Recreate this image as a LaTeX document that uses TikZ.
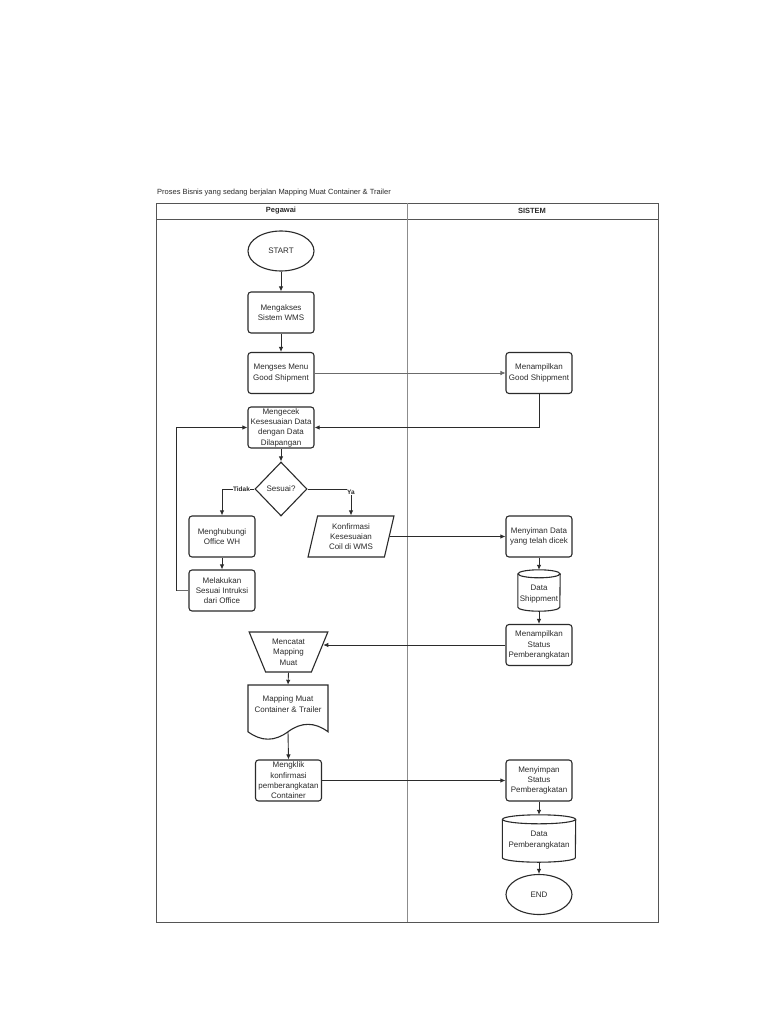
\documentclass[tikz,border=0pt]{standalone}
\usepackage{fontspec}
\setmainfont{Liberation Sans}
\usetikzlibrary{shapes.geometric,arrows.meta,calc}
\definecolor{ink}{HTML}{2B2B2B}
\definecolor{frame}{HTML}{555555}
\tikzset{
  base/.style={draw=ink,line width=1.1pt,fill=white,text=ink,font=\fontsize{8}{10.3}\selectfont,align=center,inner sep=1pt},
  procbox/.style={base,rectangle,rounded corners=3pt,minimum width=66pt,minimum height=41pt},
  term/.style={base,ellipse,minimum width=66pt,minimum height=40pt},
  decis/.style={base,diamond,minimum width=52pt,minimum height=54pt,inner sep=0pt},
  ioshape/.style={base,trapezium,trapezium stretches=true,trapezium left angle=77,trapezium right angle=103,minimum width=86pt,minimum height=41pt},
  manual/.style={base,trapezium,trapezium stretches=true,trapezium left angle=66,trapezium right angle=66,shape border rotate=180,minimum width=79pt,minimum height=40pt},
  plain/.style={draw=none,fill=none,text=ink,font=\fontsize{8}{10.3}\selectfont,align=center,inner sep=0pt},
  shapeline/.style={draw=ink,line width=1.1pt},
  flow/.style={draw=ink,line width=0.9pt,-{Latex[length=5pt,width=4.5pt]}},
  thinflow/.style={draw=ink!70,line width=0.6pt,-{Latex[length=5pt,width=4.5pt]}},
  thinline/.style={draw=ink!70,line width=0.6pt},
  lbl/.style={fill=white,text=ink,font=\fontsize{6.5}{7}\selectfont\bfseries,inner sep=0.5pt},
  hdr/.style={text=ink,font=\fontsize{7.5}{9}\selectfont\bfseries},
  ttl/.style={text=ink,font=\fontsize{7.5}{9}\selectfont,inner sep=0pt,anchor=west}
}
\newcommand\drawcyl[3]{%
  \draw[shapeline] ($(#1.north west)+(0,-#3pt)$) -- ($(#1.south west)+(0,#3pt)$)
     arc[start angle=180,end angle=360,x radius=#2pt,y radius=#3pt]
     -- ($(#1.north east)+(0,-#3pt)$);
  \draw[shapeline] ($(#1.north)+(0,-#3pt)$) ellipse[x radius=#2pt,y radius=#3pt];
}
\begin{document}
\begin{tikzpicture}[x=1pt,y=1pt]
\useasboundingbox[fill=white] (0,0) rectangle (768,-1024);

% title and frame
\node[ttl] (title) at (157,-193) {Proses Bisnis yang sedang berjalan Mapping Muat Container \& Trailer};
\draw[draw=frame,line width=0.9pt] (156,-203) rectangle (658,-922);
\coordinate (hl) at (156,-219);
\coordinate (hr) at (658,-219);
\coordinate (vt) at (407,-203);
\coordinate (vb) at (407,-922);
\draw[draw=frame,line width=0.7pt] (hl) -- (hr);
\draw[draw=black!45,line width=0.7pt] (vt) -- (vb);
\node[hdr] (peg) at (281,-211) {Pegawai};
\node[hdr] (sis) at (532,-211) {SISTEM};

% Pegawai lane
\node[term] (start) at (281,-251) {START};
\node[procbox] (akses) at (281,-312.5) {Mengakses\\Sistem WMS};
\node[procbox] (menu) at (281,-373) {Mengses Menu\\Good Shipment};
\node[procbox] (cek) at (281,-427.5) {Mengecek\\Kesesuaian Data\\dengan Data\\Dilapangan};
\node[decis] (dec) at (281,-489) {Sesuai?};
\node[procbox] (hub) at (222,-536.5) {Menghubungi\\Office WH};
\node[procbox] (lak) at (222,-590.5) {Melakukan\\Sesuai Intruksi\\dari Office};
\node[ioshape] (konf) at (351,-536.5) {Konfirmasi\\Kesesuaian\\Coil di WMS};
\node[manual] (catat) at (288.5,-652) {Mencatat\\Mapping\\Muat};

% document shape
\coordinate (docb) at (288,-731.75);
\draw[shapeline] (248,-685) -- (328,-685) -- (328,-731.75)
   .. controls (314.67,-721.85) and (301.33,-721.85) .. (docb)
   .. controls (274.67,-741.65) and (261.33,-741.65) .. (248,-731.75) -- cycle;
\node[plain,minimum width=80pt,minimum height=38pt] (doc) at (288,-704) {Mapping Muat\\Container \& Trailer};

\node[procbox] (klik) at (288.5,-780.5) {Mengklik\\konfirmasi\\pemberangkatan\\Container};

% Sistem lane
\node[procbox] (tampil) at (539,-373) {Menampilkan\\Good Shippment};
\node[procbox] (simpan) at (539,-536.5) {Menyiman Data\\yang telah dicek};
\node[plain,minimum width=42pt,minimum height=41pt] (dship) at (539,-590.5) {};
\drawcyl{dship}{21}{4}
\node[plain] (dshipt) at (539,-594) {Data\\Shippment};
\node[procbox] (status) at (539,-645) {Menampilkan\\Status\\Pemberangkatan};
\node[procbox] (menyimpan) at (539,-780.5) {Menyimpan\\Status\\Pemberagkatan};
\node[plain,minimum width=73pt,minimum height=47pt] (dpem) at (539,-838.5) {};
\drawcyl{dpem}{36.5}{4.5}
\node[plain] (dpemt) at (539,-840) {Data\\Pemberangkatan};
\node[term] (end) at (539,-894.5) {END};

% connectors
\draw[flow] (start) -- (akses);
\draw[flow] (akses) -- (menu);
\draw[thinflow] (menu) -- (tampil);
\draw[flow] (tampil.south) |- (cek.east);
\draw[flow] (cek) -- (dec);
\draw[flow] (dec.west) -| node[lbl,pos=0.2] {Tidak} (hub.north);
\draw[flow] (dec.east) -| node[lbl,pos=0.5,yshift=-3pt] {Ya} (konf.north);
\draw[flow] (hub) -- (lak);
\coordinate (loopx) at (176,-590.5);
\draw[thinline] (lak.west) -- (loopx);
\draw[flow] (loopx) |- (cek.west);
\draw[flow] (konf.east) -- (simpan.west);
\draw[flow] (simpan) -- (dship);
\draw[flow] (dship) -- (status);
\draw[flow] (status.west) -- (status.west -| catat.12);
\draw[flow] (catat.south) -- (doc.north);
\draw[flow] (docb) -- (klik.north);
\draw[flow] (klik.east) -- (menyimpan.west);
\draw[flow] (menyimpan) -- (dpem);
\draw[flow] (dpem) -- (end);
\end{tikzpicture}
\end{document}
